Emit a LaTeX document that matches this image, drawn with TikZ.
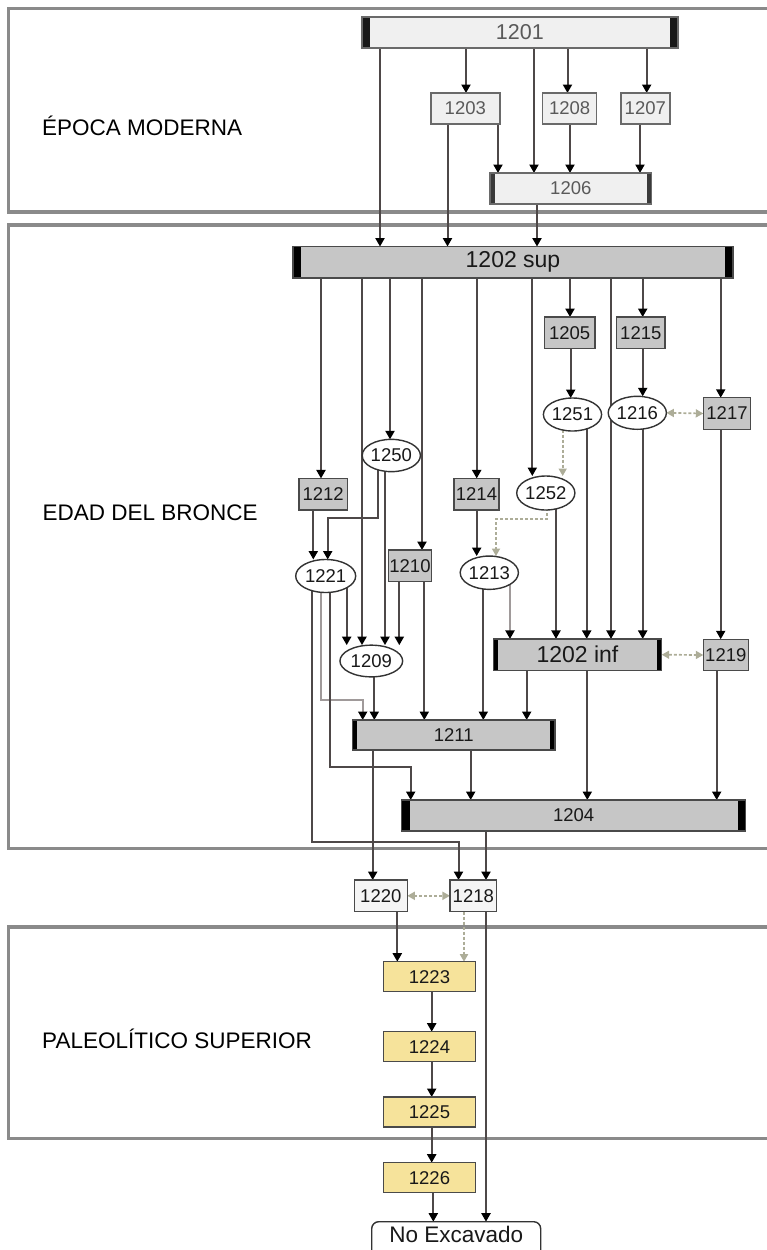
\documentclass[tikz,border=0pt]{standalone}
\usepackage{fontspec}
\setmainfont{Liberation Sans}
\usetikzlibrary{arrows.meta,backgrounds,shapes.geometric}
\newcommand\myfs[1]{\fontsize{#1bp}{#1bp}\selectfont}
\definecolor{lineC}{HTML}{4E4848}
\definecolor{lightC}{HTML}{A09A9A}
\definecolor{dashC}{HTML}{ADAD98}
\definecolor{frameC}{HTML}{8A8A8A}
\definecolor{topFill}{HTML}{F0F0F0}
\definecolor{topDraw}{HTML}{6A6A6A}
\definecolor{topText}{HTML}{5A5A5A}
\definecolor{brFill}{HTML}{C6C6C6}
\definecolor{brDraw}{HTML}{4A4A4A}
\definecolor{yelFill}{HTML}{F6E39B}
\definecolor{capDark}{HTML}{3A3A3A}
\tikzset{
  base/.style={inner sep=0pt, outer sep=0pt, font=\myfs{18.5}, line width=1.4bp},
  topbox/.style={base, rectangle, draw=topDraw, fill=topFill, text=topText, minimum height=31bp},
  brbox/.style={base, rectangle, draw=brDraw, fill=brFill, text=black!90, minimum height=31.5bp},
  oval/.style={base, ellipse, draw=black!80, fill=white, text=black!90},
  whbox/.style={base, rectangle, draw=brDraw, fill=white!96!black, text=black!90, minimum height=31.5bp},
  yelbox/.style={base, rectangle, draw=brDraw, fill=yelFill, text=black!90, minimum width=92.4bp, minimum height=30bp},
  caps/.style 2 args={path picture={
     \fill[#2] (path picture bounding box.north west) rectangle ([xshift=#1]path picture bounding box.south west);
     \fill[#2] (path picture bounding box.north east) rectangle ([xshift=-#1]path picture bounding box.south east);}},
  periodlbl/.style={anchor=base west, inner sep=0pt, font=\myfs{22.5}, text=black},
  arr/.style={draw=lineC, line width=2bp, -{Triangle[length=8.5bp,width=9bp,color=black]}},
  arrl/.style={draw=lightC, line width=2bp, -{Triangle[length=8.5bp,width=9bp,color=black]}},
  dsh/.style={draw=dashC, line width=1.7bp, dash pattern=on 3bp off 2bp, -{Triangle[length=7.5bp,width=8bp]}},
  ddsh/.style={draw=dashC, line width=1.7bp, dash pattern=on 3bp off 2bp, {Triangle[length=7.5bp,width=8bp]}-{Triangle[length=7.5bp,width=8bp]}},
  frame/.style={draw=frameC, line width=3.2bp}
}
\begin{document}
\begin{tikzpicture}[x=1bp,y=-1bp]
\useasboundingbox (0,0) rectangle (767,1250);
% period labels
\node[periodlbl] (lab1) at (42,135) {ÉPOCA MODERNA};
\node[periodlbl] (lab2) at (42.5,520) {EDAD DEL BRONCE};
\node[periodlbl] (lab3) at (42,1048) {PALEOLÍTICO SUPERIOR};
% top nodes
\node[topbox, minimum width=316bp, font=\myfs{21.5}, caps={8bp}{black!90}] (n1201) at (519.8,32.5) {1201};
\node[topbox, minimum width=69bp] (n1203) at (465.3,108.5) {1203};
\node[topbox, minimum width=54bp] (n1208) at (569.7,108.5) {1208};
\node[topbox, minimum width=49bp] (n1207) at (645.3,108.5) {1207};
\node[topbox, minimum width=161.7bp, caps={5bp}{capDark}] (n1206) at (570.8,188.5) {1206};
% bronze nodes
\node[brbox, minimum width=440bp, font=\myfs{23}, caps={8bp}{black}] (n1202s) at (513,262.3) {1202 sup};
\node[brbox, minimum width=50.7bp] (n1205) at (569.7,332.8) {1205};
\node[brbox, minimum width=48.3bp] (n1215) at (640.8,332.8) {1215};
\node[oval, minimum width=51.6bp, minimum height=33bp] (n1251) at (572.5,414.5) {1251};
\node[oval, minimum width=46.7bp, minimum height=33bp] (n1216) at (637.3,412.8) {1216};
\node[brbox, minimum width=47.4bp] (n1217) at (727,413.5) {1217};
\node[oval, minimum width=50.7bp, minimum height=32.3bp] (n1250) at (391.3,455.5) {1250};
\node[brbox, minimum width=48.3bp] (n1212) at (323.2,494.2) {1212};
\node[brbox, minimum width=45bp] (n1214) at (476.5,494.2) {1214};
\node[oval, minimum width=55bp, minimum height=34bp] (n1252) at (545.8,493) {1252};
\node[oval, minimum width=60bp, minimum height=33bp] (n1221) at (325.7,576) {1221};
\node[brbox, minimum width=43.4bp] (n1210) at (410,565.8) {1210};
\node[oval, minimum width=53.3bp, minimum height=33.3bp] (n1213) at (489.3,572.7) {1213};
\node[brbox, minimum width=168.4bp, font=\myfs{23}, caps={5bp}{black}] (n1202i) at (577.5,654.7) {1202 inf};
\node[brbox, minimum width=45bp] (n1219) at (725.8,655) {1219};
\node[oval, minimum width=62.7bp, minimum height=31.7bp] (n1209) at (371.3,661) {1209};
\node[brbox, minimum width=202.3bp, minimum height=30bp, caps={4.5bp}{black}] (n1211) at (453.8,735) {1211};
\node[brbox, minimum width=344bp, minimum height=31bp, caps={8bp}{black}] (n1204) at (573.7,815.5) {1204};
% between
\node[whbox, minimum width=53bp] (n1220) at (380.8,895.8) {1220};
\node[whbox, minimum width=46.7bp] (n1218) at (473.3,895.8) {1218};
% paleolithic
\node[yelbox] (n1223) at (429.5,976.7) {1223};
\node[yelbox] (n1224) at (429.5,1046.7) {1224};
\node[yelbox] (n1225) at (429.5,1112) {1225};
\node[yelbox] (n1226) at (429.5,1177.7) {1226};
\node[base, draw=black!80, fill=white, rounded corners=7bp, minimum width=169bp, minimum height=36bp, font=\myfs{22.5}, text=black!90, anchor=north, text height=16bp, text depth=0pt] (noexc) at (456.2,1221.7) {\raisebox{5bp}{No Excavado}};
\begin{pgfonlayer}{background}
% frames
\draw[frame] (770,8.5) -- (8.5,8.5) -- (8.5,212) -- (770,212);
\draw[frame] (770,225) -- (8.5,225) -- (8.5,848.5) -- (770,848.5);
\draw[frame] (770,927) -- (8.5,927) -- (8.5,1138.5) -- (770,1138.5);
% top connectors
\draw[arr] (n1201.south -| 380,0) -- (n1202s.north -| 380,0);
\draw[arr] (n1201.south -| 466,0) -- (n1203.north -| 466,0);
\draw[arr] (n1201.south -| 534,0) -- (n1206.north -| 534,0);
\draw[arr] (n1201.south -| 567.5,0) -- (n1208.north -| 567.5,0);
\draw[arr] (n1201.south -| 646.7,0) -- (n1207.north -| 646.7,0);
\draw[arr] (n1203.south -| 498,0) -- (n1206.north -| 498,0);
\draw[arr] (n1203.south -| 447.5,0) -- (n1202s.north -| 447.5,0);
\draw[arr] (n1208.south -| 570,0) -- (n1206.north -| 570,0);
\draw[arr] (n1207.south -| 640,0) -- (n1206.north -| 640,0);
\draw[arr] (n1206.south -| 537,0) -- (n1202s.north -| 537,0);
% from 1202 sup
\draw[arr] (n1202s.south -| 321,0) -- (n1212.north -| 321,0);
\draw[arr] (n1202s.south -| 362,0) -- (n1209.north -| 362,0);
\draw[arr] (n1202s.south -| 390,0) -- (n1250.north -| 390,0);
\draw[arr] (n1202s.south -| 422,0) -- (n1210.north -| 422,0);
\draw[arr] (n1202s.south -| 476.7,0) -- (n1214.north -| 476.7,0);
\draw[arr] (n1202s.south -| 532.3,0) -- (n1252.north -| 532.3,0);
\draw[arr] (n1202s.south -| 570,0) -- (n1205.north -| 570,0);
\draw[arr] (n1202s.south -| 611,0) -- (n1202i.north -| 611,0);
\draw[arr] (n1202s.south -| 642.7,0) -- (n1215.north -| 642.7,0);
\draw[arr] (n1202s.south -| 720.7,0) -- (n1217.north -| 720.7,0);
% right column
\draw[arr] (n1205.south -| 570.7,0) -- (n1251.north -| 570.7,0);
\draw[arr] (n1215.south -| 642.7,0) -- (n1216.north -| 642.7,0);
\draw[ddsh] (n1216.east) -- (n1217.west);
\draw[arr] (n1217.south -| 720.7,0) -- (n1219.north -| 720.7,0);
\draw[dsh] (n1251.center -| 562.7,0) -- (n1252.north -| 562.7,0);
\draw[arr] (n1251.center -| 586.7,0) -- (n1202i.north -| 586.7,0);
\draw[arr] (n1216.center -| 642.7,0) -- (n1202i.north -| 642.7,0);
% left part
\draw[arr] (n1250.center -| 377.7,0) -- (377.7,518.3) -- (327.7,518.3) -- (n1221.north -| 327.7,0);
\draw[arr] (n1250.center -| 385,0) -- (n1209.north -| 385,0);
\draw[arr] (n1212.south -| 313.3,0) -- (n1221.north -| 313.3,0);
\draw[arr] (n1214.south -| 476.7,0) -- (n1213.north -| 476.7,0);
\draw[dsh] (n1252.center -| 546.7,0) -- (546.7,519.3) -- (496,519.3) -- (n1213.north -| 496,0);
\draw[arr] (n1252.center -| 556,0) -- (n1202i.north -| 556,0);
\draw[arr] (n1210.south -| 399.3,0) -- (n1209.north -| 399.3,0);
\draw[arr] (n1210.south -| 424.3,0) -- (n1211.north -| 424.3,0);
\draw[arr] (n1221.center -| 346.7,0) -- (n1209.north -| 346.7,0);
\draw[arr] (n1221.center -| 312.3,0) -- (312.3,842) -- (458.5,842) -- (n1218.north -| 458.5,0);
\draw[arrl] (n1221.center -| 321,0) -- (321,699.5) -- (362.7,699.5) -- (n1211.north -| 362.7,0);
\draw[arr] (n1221.center -| 330,0) -- (330,766.7) -- (410.7,766.7) -- (n1204.north -| 410.7,0);
\draw[arr] (n1213.center -| 483.3,0) -- (n1211.north -| 483.3,0);
\draw[arrl] (n1213.center -| 510,0) -- (n1202i.north -| 510,0);
\draw[arr] (n1209.center -| 374.3,0) -- (n1211.north -| 374.3,0);
\draw[arr] (n1202i.south -| 526.7,0) -- (n1211.north -| 526.7,0);
\draw[arr] (n1202i.south -| 587.3,0) -- (n1204.north -| 587.3,0);
\draw[ddsh] (n1202i.east) -- (n1219.west);
\draw[arr] (n1219.south -| 716.7,0) -- (n1204.north -| 716.7,0);
\draw[arr] (n1211.south -| 470.7,0) -- (n1204.north -| 470.7,0);
\draw[arr] (n1211.south -| 372.7,0) -- (n1220.north -| 372.7,0);
\draw[arr] (n1204.south -| 486,0) -- (n1218.north -| 486,0);
% lower part
\draw[ddsh] (n1220.east) -- (n1218.west);
\draw[arr] (n1220.south -| 397.3,0) -- (n1223.north -| 397.3,0);
\draw[dsh] (n1218.south -| 464,0) -- (n1223.north -| 464,0);
\draw[arr] (n1218.south -| 486,0) -- (noexc.north -| 486,0);
\draw[arr] (n1223.south -| 431.7,0) -- (n1224.north -| 431.7,0);
\draw[arr] (n1224.south -| 431.7,0) -- (n1225.north -| 431.7,0);
\draw[arr] (n1225.south -| 431.7,0) -- (n1226.north -| 431.7,0);
\draw[arr] (n1226.south -| 433.3,0) -- (noexc.north -| 433.3,0);
\end{pgfonlayer}
\end{tikzpicture}
\end{document}
